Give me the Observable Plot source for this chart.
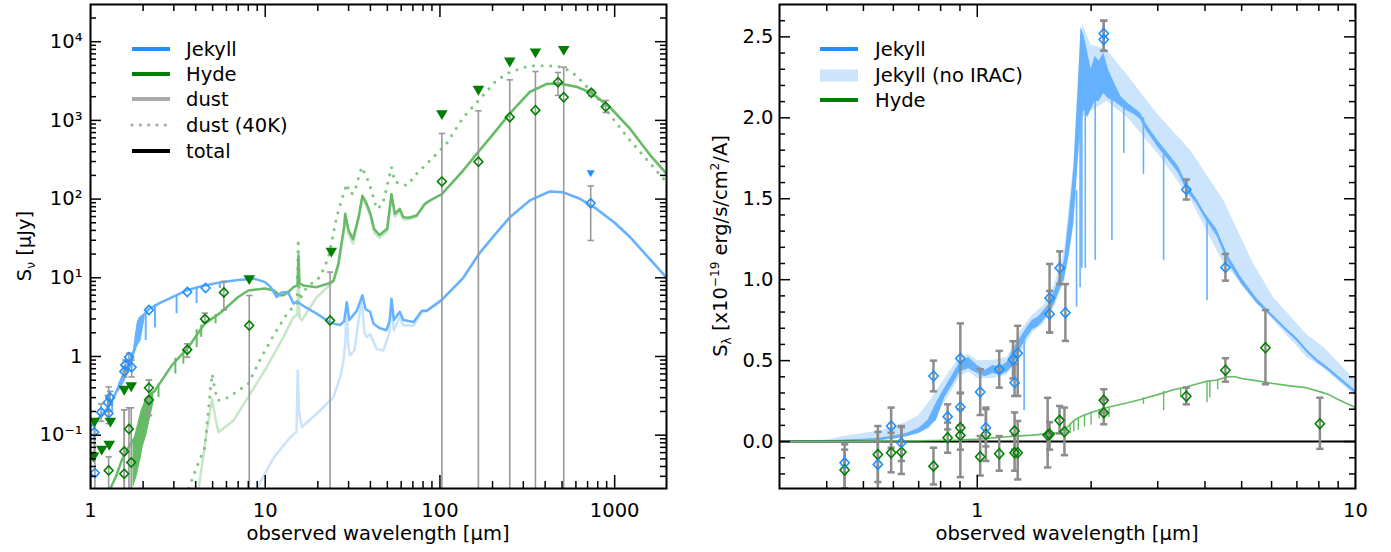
<!DOCTYPE html>
<html><head><meta charset="utf-8">
<script src="https://cdn.jsdelivr.net/npm/d3@7"></script>
<script src="https://cdn.jsdelivr.net/npm/@observablehq/plot@0.6"></script>
<style>
body{margin:0;background:#fff;}
#wrap{position:relative;width:1391px;height:552px;overflow:hidden;background:#fff;}
#wrap svg{position:absolute;top:0;}
</style></head><body><div id="wrap"></div>
<script>
// ================= LEFT PANEL DATA (wavelength [um], S_nu [uJy]) =================
const jekyllTotalL = [[1.0,0.13],[1.05,0.14],[1.1,0.16],[1.2,0.2],[1.3,0.25],[1.4,0.35],[1.5,0.5],[1.6,0.72],[1.7,0.95],[1.78,1.2],[1.83,2.0],[1.88,2.8],[1.95,3.2],[2.05,3.5],[2.16,4.0],[2.5,4.8],[2.9,5.6],[3.6,7.0],[4.5,8.0],[5.6,8.8],[7.0,9.4],[8.7,9.7],[10.0,8.8],[10.8,7.5],[11.6,5.7],[12.4,6.5],[13.5,6.6],[14.5,4.7],[15.2,5.0],[16.5,4.4],[19.7,3.5],[23.5,2.7],[26.8,2.5],[28.3,2.8],[29.3,4.9],[30.3,2.9],[33.4,3.8],[36.0,6.0],[37.5,4.0],[39.8,3.7],[41.7,2.6],[45,2.3],[49.3,2.15],[51.5,2.8],[52.8,5.4],[54.5,2.9],[58.9,3.7],[61.7,2.9],[70.7,2.75],[78.8,3.8],[84,3.8],[102,5.2],[136,10],[168,20.4],[210,37],[251,58.6],[327,96],[426,125],[508,122],[632,101],[788,75],[1000,50],[1227,32.7],[1600,17],[1980,10]];
const jekyllDustL = [[8.95,0.021],[11.2,0.052],[13.9,0.094],[15.1,0.11],[15.35,0.66],[15.6,0.2],[16.2,0.127],[19.7,0.187],[24.6,0.305],[26.8,0.54],[28.0,0.85],[28.7,1.5],[29.3,4.66],[29.9,1.3],[30.6,1.03],[32.4,1.19],[35.6,5.4],[37.0,2.0],[38.1,1.76],[39.8,1.94],[43.4,1.25],[47.4,1.19],[51.3,2.0],[52.8,5.15],[54.5,2.14],[58.9,3.16],[61.7,2.48],[70.7,2.48],[78.8,3.66],[84,3.75],[102,5.15],[136,10],[168,20.3],[210,37],[251,58.5],[327,96],[426,125],[508,122],[632,101],[788,75],[1000,50],[1227,32.7],[1600,17],[1980,10]];
const hydeTotalL = [[1.3,0.021],[1.4,0.03],[1.51,0.048],[1.65,0.07],[1.8,0.094],[1.96,0.2],[2.1,0.3],[2.34,0.37],[2.92,0.77],[3.63,1.31],[4.5,2.6],[5.6,3.66],[7.0,5.7],[8.0,6.9],[10.0,7.3],[11.2,6.9],[12.1,6.0],[12.7,6.0],[13.5,6.5],[14.5,7.6],[15.3,8.0],[15.5,19],[15.7,8.5],[16.5,8.0],[19.7,7.6],[23.5,8.6],[24.6,9.2],[26.2,15],[27.5,30],[28.3,45],[28.7,65],[30,40],[31.8,31],[34.2,58.6],[36,110],[38.1,87],[40,65],[42,42],[45,35],[49.9,42],[52.8,116],[55.2,65],[58.9,75],[61.7,59],[66,58],[73.5,62],[82,87],[87.6,96],[102.6,116],[136,232],[166,399],[210,746],[251,1223],[327,2300],[406,2900],[483,2950],[602,2680],[736,2240],[938,1470],[1227,780],[1600,360],[1980,210]];
const hydeDustL = [[4.16,0.021],[4.64,0.115],[4.96,0.29],[5.18,0.169],[5.4,0.109],[6.59,0.154],[8.2,0.335],[10.2,0.73],[12.7,1.76],[14.5,3.16],[15.3,3.4],[15.5,20],[15.7,3.2],[16.2,2.87],[19.7,5.66],[24.6,9.0],[26.2,14],[27.5,28],[28.3,42],[28.7,60],[30,36],[31.8,27],[34.2,55],[36,105],[38.1,80],[40,60],[42,38],[45,32],[49.9,39],[52.8,110],[55.2,60],[58.9,70],[61.7,55],[66,55],[73.5,60],[82,85],[87.6,95],[102.6,115],[136,231],[166,398],[210,745],[251,1222],[327,2300],[406,2900],[483,2950],[602,2680],[736,2240],[938,1470],[1227,780],[1600,360],[1980,210]];
const hydeDust40L = [[3.65,0.021],[4.05,0.039],[4.52,0.07],[4.83,0.335],[4.97,0.6],[5.16,0.37],[5.35,0.276],[6.12,0.3],[8.0,0.45],[9.5,0.98],[11.3,1.94],[13.5,3.66],[15.2,4.66],[15.45,31],[15.7,5.2],[17.3,7.6],[20.6,10.2],[23,18],[25.7,60],[27.5,100],[29.3,156],[30.6,116],[32.4,120],[35.6,255],[38.1,190],[40.6,128],[43.4,75],[47,85],[52.8,255],[55.2,164],[58.9,160],[64.5,148],[73.5,210],[87.6,308],[109,505],[136,1090],[166,1780],[210,3200],[251,4090],[327,4960],[406,4960],[508,4740],[602,3720],[788,1970],[982,1040],[1227,554],[1980,164]];
// noisy stellar-spectrum envelopes [wl, low, high] and absorption spikes [wl, top, bottom]
const jekyllBandL = [[1.45,0.35,0.45],[1.55,0.45,0.62],[1.65,0.6,0.85],[1.75,0.8,1.15],[1.8,1.1,1.6],[1.85,1.3,2.6],[1.9,1.45,3.1],[1.95,1.6,3.2],[2.0,2.2,3.4],[2.05,3.0,3.5]];
const jekyllSpikesL = [[2.07,3.6,1.6],[2.34,4.6,2.3],[3.11,5.9,3.5],[4.05,7.7,4.7],[5.5,8.7,7.3],[1.27,0.23,0.16],[1.33,0.28,0.2]];
const hydeBandL = [[1.75,0.021,0.085],[1.8,0.025,0.095],[1.85,0.03,0.12],[1.9,0.04,0.15],[1.95,0.05,0.19],[2.0,0.07,0.22],[2.1,0.1,0.3],[2.2,0.16,0.34],[2.3,0.25,0.36]];
const hydeSpikesL = [[2.45,0.45,0.3],[3.06,0.95,0.6],[3.4,1.2,0.8],[4.05,2.2,1.3],[4.3,2.5,1.75],[5.2,3.4,2.6]];
// photometry [wl, S, errLow, errHigh]
const jekyllPhotL = [[1.05,0.109,0.06,0.16],[1.06,0.033,0.001,0.16],[1.15,0.196,0.15,0.25],[1.27,0.19,0.14,0.41],[1.256,0.26,0.2,0.32],[1.296,0.30,0.24,0.36],[1.56,0.645,0.55,0.75],[1.58,0.78,0.65,0.9],[1.66,0.98,0.85,1.1],[1.72,0.73,0.55,0.9],[2.16,3.9,3.9,3.9],[3.58,6.6,6.6,6.6],[4.56,7.4,7.4,7.4],[729,88.7,29.8,147]];
const hydePhotL = [[1.27,0.0356,0.001,0.053],[1.56,0.062,0.001,0.21],[1.56,0.0323,0.001,0.21],[1.66,0.12,0.001,0.223],[1.71,0.045,0.001,0.223],[2.16,0.40,0.178,0.5],[2.16,0.28,0.178,0.5],[3.58,1.22,0.98,1.45],[4.52,3.0,2.73,3.55],[5.8,6.5,3.9,9.0],[8.1,2.48,0.001,5.96],[23.5,2.87,0.001,11.8],[102.6,167,0.001,682],[166,298,0.001,1324],[251,1099,0.001,3283],[352,1349,0.001,4180],[474,3060,2080,4060],[511,1972,0.001,4740],[736,2240,2050,2450],[889,1489,1260,1790]];
const hydeLimitsL = [[1.054,0.146],[1.04,0.0525],[1.16,0.064],[1.28,0.074],[1.30,0.146],[1.56,0.37],[1.71,0.41],[8.1,9.4],[23.9,21],[102.6,1178],[166,2400],[251,5490],[352,7150],[511,7730]];
const jekyllLimitsL = [[729,211]];

const leftXMajor = [1,10,100,1000];
const leftXLabels = ["1","10","100","1000"];
const leftYMajor = [0.1,1,10,100,1000,10000];
const leftYLabels = ["10\u207B\u00B9","1","10\u00B9","10\u00B2","10\u00B3","10\u2074"];

// ================= RIGHT PANEL DATA (wavelength [um], S_lambda [1e-19 erg/s/cm2/A]) =================
const jekyllSpecR = [[0.3,0,0.002],[0.4,0.0,0.005],[0.5,0.005,0.015],[0.55,0.008,0.02],[0.6,0.015,0.035],[0.65,0.03,0.05],[0.7,0.05,0.08],[0.74,0.08,0.13],[0.78,0.13,0.24],[0.82,0.27,0.33],[0.86,0.35,0.41],[0.9,0.43,0.49],[0.95,0.45,0.52],[1.0,0.42,0.47],[1.05,0.40,0.44],[1.1,0.42,0.47],[1.15,0.41,0.46],[1.2,0.43,0.49],[1.25,0.47,0.58],[1.3,0.57,0.64],[1.35,0.64,0.70],[1.4,0.69,0.75],[1.45,0.71,0.77],[1.5,0.75,0.81],[1.55,0.79,0.85],[1.6,0.85,0.93],[1.65,0.93,1.01],[1.7,1.0,1.12],[1.75,1.15,1.38],[1.8,1.35,1.68],[1.85,1.75,2.2],[1.88,2.0,2.56],[1.92,2.05,2.5],[1.96,2.0,2.4],[2.0,2.05,2.3],[2.05,2.1,2.38],[2.1,2.1,2.35],[2.16,2.15,2.4],[2.22,2.12,2.3],[2.3,2.1,2.22],[2.4,2.07,2.13],[2.5,2.04,2.09],[2.6,2.02,2.06],[2.7,1.99,2.03],[2.8,1.92,1.96],[2.9,1.87,1.91],[3.0,1.82,1.86],[3.2,1.74,1.78],[3.4,1.66,1.70],[3.6,1.54,1.58],[3.8,1.47,1.50],[4.0,1.38,1.41],[4.3,1.27,1.31],[4.6,1.11,1.15],[5.0,0.97,1.01],[5.5,0.85,0.88],[6.0,0.77,0.79],[6.5,0.69,0.71],[7.0,0.62,0.64],[7.5,0.54,0.56],[8.0,0.48,0.50],[8.5,0.435,0.455],[9.0,0.385,0.405],[10.0,0.295,0.315]];
const jekyllSpikesR = [[1.33,0.66,0.19],[1.83,1.55,0.83],[1.87,2.1,0.95],[1.89,2.3,1.07],[1.93,2.2,1.07],[2.05,2.2,1.12],[2.27,2.2,1.24],[2.44,2.08,1.78],[2.75,2.0,1.65],[3.11,1.78,1.12],[4.05,1.38,0.87]];
const jekyllNoIracR = [[0.3,0,0.0],[0.4,0.0,0.01],[0.44,0.0,0.03],[0.5,0.005,0.05],[0.55,0.008,0.065],[0.6,0.015,0.09],[0.65,0.03,0.12],[0.7,0.05,0.16],[0.75,0.08,0.25],[0.8,0.2,0.35],[0.85,0.3,0.44],[0.9,0.4,0.52],[0.95,0.43,0.54],[1.0,0.39,0.5],[1.1,0.39,0.5],[1.2,0.41,0.52],[1.3,0.54,0.68],[1.4,0.67,0.78],[1.5,0.73,0.84],[1.6,0.83,0.97],[1.7,0.99,1.17],[1.8,1.33,1.72],[1.85,1.73,2.25],[1.9,2.0,2.58],[2.0,2.04,2.45],[2.2,2.1,2.42],[2.5,2.0,2.26],[3.0,1.78,2.02],[3.66,1.5,1.8],[4.48,1.1,1.49],[5.37,0.9,1.1],[6.07,0.75,0.89],[7.44,0.52,0.66],[8.27,0.45,0.58],[10,0.28,0.375]];
const hydeSpecR = [[0.3,0],[0.5,0.002],[0.7,0.005],[0.9,0.01],[1.0,0.015],[1.2,0.03],[1.4,0.04],[1.55,0.05],[1.65,0.055],[1.75,0.1],[1.8,0.13],[1.9,0.16],[2.0,0.18],[2.2,0.21],[2.5,0.24],[2.7,0.26],[3.0,0.29],[3.3,0.32],[3.6,0.34],[4.0,0.37],[4.3,0.38],[4.6,0.4],[4.8,0.4],[5.0,0.39],[5.5,0.375],[6.0,0.36],[6.7,0.344],[7.4,0.333],[8.0,0.31],[8.5,0.29],[9.0,0.26],[10,0.21]];
const hydeSpikesR = [[1.72,0.08,0.045],[1.76,0.11,0.05],[1.8,0.13,0.06],[1.85,0.15,0.07],[1.92,0.165,0.09],[2.0,0.18,0.1],[2.1,0.195,0.14],[2.23,0.21,0.15],[2.75,0.27,0.23],[3.11,0.31,0.19],[3.45,0.33,0.27],[4.05,0.37,0.24],[4.12,0.37,0.27],[4.32,0.385,0.32]];
const jekyllPhotR = [[0.446,-0.131,-0.29,-0.017],[0.546,-0.141,-0.31,0.096],[0.592,0.096,-0.038,0.21],[0.63,-0.007,-0.12,0.09],[0.766,0.405,0.31,0.5],[0.835,0.154,0.075,0.23],[0.902,0.513,0.3,0.73],[0.902,0.213,0.1,0.3],[1.018,0.306,0.164,0.447],[1.054,0.085,-0.03,0.2],[1.143,0.447,0.333,0.56],[1.243,0.505,0.39,0.62],[1.279,0.546,0.282,0.715],[1.255,0.364,0.282,0.478],[1.553,0.887,0.674,1.097],[1.553,0.788,0.674,0.93],[1.652,1.072,0.973,1.175],[1.71,0.796,0.622,0.973],[2.16,2.521,2.414,2.6],[2.16,2.484,2.414,2.6],[3.57,1.557,1.495,1.619],[4.53,1.076,0.994,1.159]];
const hydePhotR = [[0.446,-0.176,-0.29,-0.05],[0.546,-0.08,-0.25,0.06],[0.592,-0.069,-0.19,0.055],[0.63,-0.065,-0.2,0.096],[0.766,-0.152,-0.265,-0.038],[0.835,0.024,-0.069,0.117],[0.902,0.085,-0.05,0.2],[0.902,0.038,-0.22,0.3],[1.018,-0.094,-0.21,0.034],[1.054,0.044,-0.12,0.21],[1.143,-0.075,-0.18,0.034],[1.255,0.065,-0.05,0.18],[1.255,-0.069,-0.18,0.04],[1.279,-0.069,-0.234,0.127],[1.535,0.04,-0.16,0.27],[1.553,0.045,-0.05,0.12],[1.65,0.131,0.05,0.22],[1.7,0.061,-0.084,0.21],[2.16,0.255,0.18,0.323],[2.16,0.178,0.107,0.26],[3.57,0.28,0.23,0.333],[4.53,0.44,0.37,0.515],[5.78,0.58,0.354,0.812],[8.05,0.11,-0.045,0.271]];

const rightXMajor = [1,10];
const rightXLabels = ["1","10"];
const rightYMajor = [0,0.5,1,1.5,2,2.5];
const rightYLabels = ["0.0","0.5","1.0","1.5","2.0","2.5"];

const legendLeft = [
  {label:"Jekyll", color:"#1e90ff", dash:null},
  {label:"Hyde", color:"#008000", dash:null},
  {label:"dust", color:"#aaaaaa", dash:null},
  {label:"dust (40K)", color:"#aaaaaa", dash:"3,5.3"},
  {label:"total", color:"#000000", dash:null}
];
const legendRight = [
  {label:"Jekyll", color:"#1e90ff", kind:"line"},
  {label:"Jekyll (no IRAC)", color:"#cce5fc", kind:"patch"},
  {label:"Hyde", color:"#008000", kind:"line"}
];

// ================= helpers =================
const FONT = "DejaVu Sans", FS = 19.5;
const C = {jek:"#66b2ff", jekDust:"#c8e3fb", hyde:"#66bb66", hydeDust:"#c8e6c8", hydeDot:"#80c680",
           jekM:"#1e90ff", hydeM:"#008000", err:"#999999", errR:"#8c8c8c"};
const sym = f => ({draw(ctx){ f(ctx); }});
const diamondL = sym(c=>{c.moveTo(0,-4.6);c.lineTo(4.4,0);c.lineTo(0,4.6);c.lineTo(-4.4,0);c.closePath();});
const diamondR = sym(c=>{c.moveTo(0,-5);c.lineTo(4.6,0);c.lineTo(0,5);c.lineTo(-4.6,0);c.closePath();});
const triBig = sym(c=>{c.moveTo(-5.8,-4.6);c.lineTo(5.8,-4.6);c.lineTo(0,5.2);c.closePath();});
const triSmall = sym(c=>{c.moveTo(-4,-3.2);c.lineTo(4,-3.2);c.lineTo(0,3.6);c.closePath();});
const capL = sym(c=>{c.moveTo(-3.2,0);c.lineTo(3.2,0);});
const capR = sym(c=>{c.moveTo(-3.6,0);c.lineTo(3.6,0);});
const caps = arr => arr.filter(d=>d[2]!==d[3]).flatMap(d=>[[d[0],d[2]],[d[0],d[3]]]);
const minorLog = (lo, hi) => { const out=[]; for (let e=lo; e<=hi; e++) for (let k=2;k<=9;k++) out.push(k*Math.pow(10,e)); return out; };

function tickRules(xMaj, xMin, yMaj, yMin, pw, ph) {
  const s = {stroke:"black", strokeWidth:1.5, clip:true};
  return [
    Plot.ruleX(xMaj, {...s, insetTop: ph-13}), Plot.ruleX(xMaj, {...s, insetBottom: ph-13}),
    Plot.ruleX(xMin, {...s, insetTop: ph-7}),  Plot.ruleX(xMin, {...s, insetBottom: ph-7}),
    Plot.ruleY(yMaj, {...s, insetRight: pw-11}), Plot.ruleY(yMaj, {...s, insetLeft: pw-11}),
    Plot.ruleY(yMin, {...s, insetRight: pw-6}),  Plot.ruleY(yMin, {...s, insetLeft: pw-6})
  ];
}
function addText(s, x, y, str, anchor) {
  return s.append("text").attr("x", x).attr("y", y).attr("text-anchor", anchor)
    .attr("font-family", FONT).attr("font-size", FS).attr("fill", "black").text(str);
}
const wrap = document.getElementById("wrap");

// ================= LEFT PANEL =================
{
  const W=695, H=552, mt=4, mb=64, ml=90, mr=29;
  const pw=W-ml-mr, ph=H-mt-mb;
  const xMin = minorLog(0,3).filter(v=>v<1980);
  const yMin = minorLog(-2,4).filter(v=>v>0.021 && v<29700);
  const svg = Plot.plot({
    width:W, height:H, marginTop:mt, marginBottom:mb, marginLeft:ml, marginRight:mr,
    style:{fontFamily:FONT, fontSize:FS+"px", background:"white", overflow:"visible"},
    x:{type:"log", domain:[1,1980]},
    y:{type:"log", domain:[0.021,29700]},
    marks:[
      Plot.line(hydeDustL, {x:d=>d[0], y:d=>d[1], stroke:C.hydeDust, strokeWidth:2.5, clip:true}),
      Plot.line(jekyllDustL, {x:d=>d[0], y:d=>d[1], stroke:C.jekDust, strokeWidth:2.5, clip:true}),
      Plot.line(hydeDust40L, {x:d=>d[0], y:d=>d[1], stroke:C.hydeDot, strokeWidth:3, strokeDasharray:"0.1,8.5", strokeLinecap:"round", clip:true}),
      Plot.areaY(hydeBandL, {x:d=>d[0], y1:d=>d[1], y2:d=>d[2], fill:C.hyde, clip:true}),
      Plot.ruleX(hydeSpikesL, {x:d=>d[0], y1:d=>d[1], y2:d=>d[2], stroke:C.hyde, strokeWidth:2, clip:true}),
      Plot.line(hydeTotalL, {x:d=>d[0], y:d=>d[1], stroke:C.hyde, strokeWidth:2.5, clip:true}),
      Plot.areaY(jekyllBandL, {x:d=>d[0], y1:d=>d[1], y2:d=>d[2], fill:C.jek, clip:true}),
      Plot.ruleX(jekyllSpikesL, {x:d=>d[0], y1:d=>d[1], y2:d=>d[2], stroke:C.jek, strokeWidth:2, clip:true}),
      Plot.line(jekyllTotalL, {x:d=>d[0], y:d=>d[1], stroke:C.jek, strokeWidth:2.5, clip:true}),
      Plot.ruleX(hydePhotL.filter(d=>d[2]!==d[3]), {x:d=>d[0], y1:d=>d[2], y2:d=>d[3], stroke:C.err, strokeWidth:1.6, clip:true}),
      Plot.ruleX(jekyllPhotL.filter(d=>d[2]!==d[3]), {x:d=>d[0], y1:d=>d[2], y2:d=>d[3], stroke:C.err, strokeWidth:1.6, clip:true}),
      Plot.dot(caps(hydePhotL).concat(caps(jekyllPhotL)), {x:d=>d[0], y:d=>d[1], symbol:capL, stroke:C.err, strokeWidth:1.6, fill:"none", clip:true}),
      Plot.dot(jekyllPhotL, {x:d=>d[0], y:d=>d[1], symbol:diamondL, stroke:C.jekM, strokeWidth:1.6, fill:"none", clip:true}),
      Plot.dot(hydePhotL, {x:d=>d[0], y:d=>d[1], symbol:diamondL, stroke:C.hydeM, strokeWidth:1.6, fill:"none", clip:true}),
      Plot.dot(hydeLimitsL, {x:d=>d[0], y:d=>d[1], symbol:triBig, fill:C.hydeM, stroke:"none", clip:true}),
      Plot.dot(jekyllLimitsL, {x:d=>d[0], y:d=>d[1], symbol:triSmall, fill:C.jekM, stroke:"none", clip:true}),
      ...tickRules(leftXMajor, xMin, leftYMajor, yMin, pw, ph),
      Plot.axisX({ticks:leftXMajor, tickSize:0, tickPadding:15, tickFormat:d=>leftXLabels[leftXMajor.indexOf(d)], label:null, fontSize:FS, fill:"black"}),
      Plot.axisY({ticks:leftYMajor, tickSize:0, tickPadding:8, tickFormat:d=>leftYLabels[leftYMajor.indexOf(d)], label:null, fontSize:FS, fill:"black"}),
      Plot.frame({stroke:"black", strokeWidth:2})
    ]
  });
  svg.style.left = "0px";
  const s = d3.select(svg);
  addText(s, ml+pw/2, 540, "observed wavelength [\u03BCm]", "middle");
  const yl = s.append("text").attr("transform",`translate(31,${mt+ph/2}) rotate(-90)`).attr("text-anchor","middle")
    .attr("font-family",FONT).attr("font-size",FS).attr("fill","black");
  yl.append("tspan").text("S");
  yl.append("tspan").attr("font-size",FS*0.62).attr("dy",4).text("\u03BD");
  yl.append("tspan").attr("dy",-4).text(" [\u03BCJy]");
  const ly = [49,74,99,125,151];
  legendLeft.forEach((d,i)=>{
    s.append("line").attr("x1",132).attr("x2",170).attr("y1",ly[i]).attr("y2",ly[i])
      .attr("stroke",d.color).attr("stroke-width",d.dash?3.2:4)
      .attr("stroke-dasharray",d.dash?"0.1,8.2":null).attr("stroke-linecap",d.dash?"round":"butt");
    addText(s, 186, ly[i], d.label, "start").attr("dy","0.36em");
  });
  wrap.appendChild(svg);
}

// ================= RIGHT PANEL =================
{
  const X0=695, W=696, H=552, mt=4, mb=64, ml=84, mr=36;
  const pw=W-ml-mr, ph=H-mt-mb;
  const xMin = [0.4,0.5,0.6,0.7,0.8,0.9,2,3,4,5,6,7,8,9];
  const yMin = d3.range(-2,27).filter(i=>i%5!==0).map(i=>i/10);
  const svg = Plot.plot({
    width:W, height:H, marginTop:mt, marginBottom:mb, marginLeft:ml, marginRight:mr,
    style:{fontFamily:FONT, fontSize:FS+"px", background:"white", overflow:"visible"},
    x:{type:"log", domain:[0.3,10]},
    y:{type:"linear", domain:[-0.29,2.70]},
    marks:[
      Plot.areaY(jekyllNoIracR, {x:d=>d[0], y1:d=>d[1], y2:d=>d[2], fill:"#cce5fc", clip:true}),
      Plot.areaY(jekyllSpecR, {x:d=>d[0], y1:d=>d[1], y2:d=>d[2], fill:C.jek, clip:true}),
      Plot.line(jekyllSpecR, {x:d=>d[0], y:d=>(d[1]+d[2])/2, stroke:C.jek, strokeWidth:1.3, clip:true}),
      Plot.ruleX(jekyllSpikesR, {x:d=>d[0], y1:d=>d[1], y2:d=>d[2], stroke:C.jek, strokeWidth:1.6, clip:true}),
      Plot.ruleY([0], {stroke:"black", strokeWidth:2}),
      Plot.line(hydeSpecR, {x:d=>d[0], y:d=>d[1], stroke:C.hyde, strokeWidth:1.6, clip:true}),
      Plot.ruleX(hydeSpikesR, {x:d=>d[0], y1:d=>d[1], y2:d=>d[2], stroke:C.hyde, strokeWidth:1.4, clip:true}),
      Plot.ruleX(jekyllPhotR.concat(hydePhotR), {x:d=>d[0], y1:d=>d[2], y2:d=>d[3], stroke:C.errR, strokeWidth:2.5, clip:true}),
      Plot.dot(caps(jekyllPhotR).concat(caps(hydePhotR)), {x:d=>d[0], y:d=>d[1], symbol:capR, stroke:C.errR, strokeWidth:2.5, fill:"none", clip:true}),
      Plot.dot(hydePhotR, {x:d=>d[0], y:d=>d[1], symbol:diamondR, stroke:C.hydeM, strokeWidth:1.6, fill:"none", clip:true}),
      Plot.dot(jekyllPhotR, {x:d=>d[0], y:d=>d[1], symbol:diamondR, stroke:C.jekM, strokeWidth:1.6, fill:"none", clip:true}),
      ...tickRules(rightXMajor, xMin, rightYMajor, yMin, pw, ph),
      Plot.axisX({ticks:rightXMajor, tickSize:0, tickPadding:15, tickFormat:d=>rightXLabels[rightXMajor.indexOf(d)], label:null, fontSize:FS, fill:"black"}),
      Plot.axisY({ticks:rightYMajor, tickSize:0, tickPadding:6, tickFormat:d=>rightYLabels[rightYMajor.indexOf(d)], label:null, fontSize:FS, fill:"black"}),
      Plot.frame({stroke:"black", strokeWidth:2})
    ]
  });
  svg.style.left = X0+"px";
  const s = d3.select(svg);
  addText(s, ml+pw/2, 540, "observed wavelength [\u03BCm]", "middle");
  const yl = s.append("text").attr("transform",`translate(32,${mt+ph/2}) rotate(-90)`).attr("text-anchor","middle")
    .attr("font-family",FONT).attr("font-size",FS).attr("fill","black");
  yl.append("tspan").text("S");
  yl.append("tspan").attr("font-size",FS*0.62).attr("dy",4).text("\u03BB");
  yl.append("tspan").attr("dy",-4).text(" [x10");
  yl.append("tspan").attr("font-size",FS*0.62).attr("dy",-8).text("\u221219");
  yl.append("tspan").attr("dy",8).text(" erg/s/cm");
  yl.append("tspan").attr("font-size",FS*0.62).attr("dy",-8).text("2");
  yl.append("tspan").attr("dy",8).text("/A]");
  const ly = [49,75,100];
  legendRight.forEach((d,i)=>{
    const lx = 820-X0;
    if (d.kind==="patch") {
      s.append("rect").attr("x",lx).attr("y",ly[i]-5.5).attr("width",38).attr("height",12).attr("fill",d.color);
    } else {
      s.append("line").attr("x1",lx).attr("x2",lx+38).attr("y1",ly[i]).attr("y2",ly[i])
        .attr("stroke",d.color).attr("stroke-width",4);
    }
    addText(s, 875-X0, ly[i], d.label, "start").attr("dy","0.36em");
  });
  wrap.appendChild(svg);
}
</script></body></html>
